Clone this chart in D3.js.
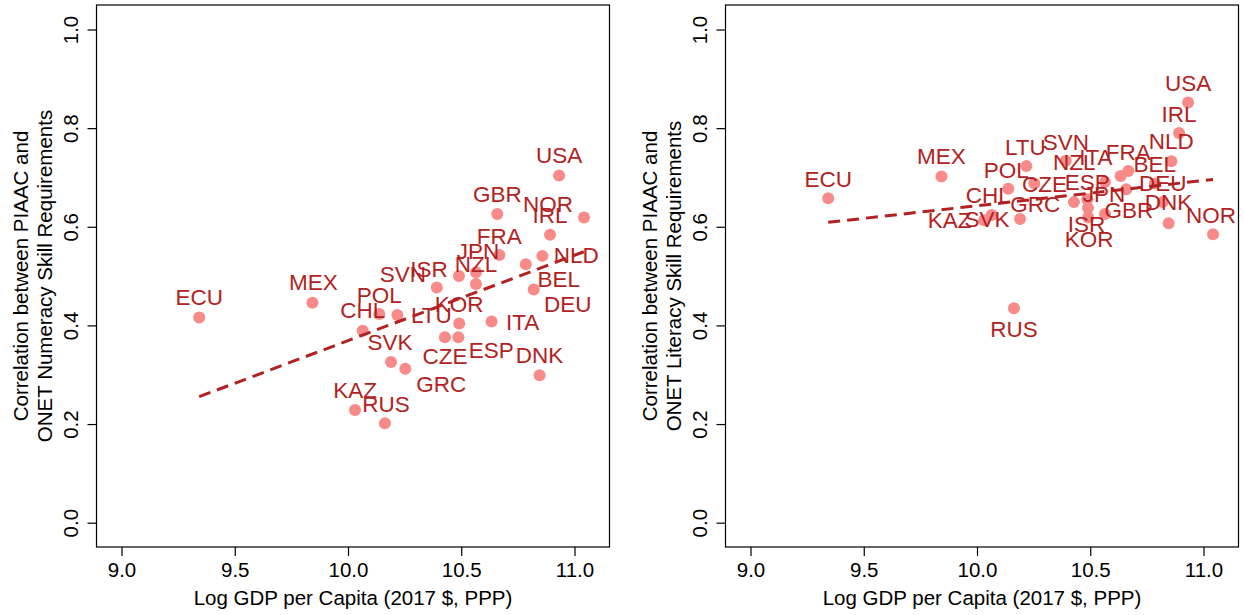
<!DOCTYPE html>
<html><head><meta charset="utf-8">
<script src="https://cdn.jsdelivr.net/npm/d3@7"></script>
<style>
body{margin:0;background:#fff}
svg{display:block}
text{font-family:"Liberation Sans",Arial,Helvetica,sans-serif}
</style>
</head><body>
<svg id="chart" width="1244" height="615"></svg>
<script>
// ---------------- data ----------------
const countries = ["ECU","MEX","KAZ","CHL","POL","RUS","SVK","LTU","GRC","SVN","CZE","ESP","KOR","ISR","NZL","JPN","ITA","GBR","FRA","DEU","BEL","DNK","NLD","IRL","USA","NOR"];
const logGdpPerCapita = [9.343,9.843,10.031,10.065,10.138,10.163,10.190,10.218,10.253,10.392,10.428,10.487,10.491,10.490,10.565,10.565,10.634,10.659,10.668,10.820,10.785,10.846,10.858,10.892,10.932,11.042];
const numeracyCorr = [0.416,0.446,0.2285,0.389,0.423,0.2015,0.326,0.421,0.312,0.477,0.376,0.376,0.404,0.500,0.484,0.508,0.408,0.626,0.543,0.473,0.524,0.299,0.541,0.584,0.704,0.619];
const literacyCorr = [0.658,0.702,0.613,0.624,0.677,0.435,0.616,0.723,0.688,0.734,0.650,0.656,0.619,0.638,0.691,0.626,0.703,0.676,0.713,0.650,0.688,0.607,0.733,0.790,0.852,0.585];
const fitXRange = [9.343, 11.042];
const numeracyFit = [0.2555, 0.5495];
const literacyFit = [0.609, 0.696];
const xTicks = [9.0, 9.5, 10.0, 10.5, 11.0];
const yTicks = [0.0, 0.2, 0.4, 0.6, 0.8, 1.0];
const xTitle = "Log GDP per Capita (2017 $, PPP)";
const numeracyTitle = ["Correlation between PIAAC and", "ONET Numeracy Skill Requirements"];
const literacyTitle = ["Correlation between PIAAC and", "ONET Literacy Skill Requirements"];

// ---------------- layout (label placement offsets, px) ----------------
const numLabelOffsets = {
  ECU:[0,-12.3], MEX:[1,-12.7], KAZ:[0,-11.7], CHL:[0,-12.4], POL:[0,-10.7], RUS:[1,-11.6],
  SVK:[-1,-11.7], LTU:[34,7.7], GRC:[36,22.7], SVN:[-34,-5.6], CZE:[0,26.7], ESP:[33,21],
  KOR:[0,-11.6], ISR:[-30,1.3], NZL:[0,-11.5], JPN:[2,-13], ITA:[31,8.7], GBR:[0,-12.3],
  FRA:[0,-11], DEU:[34,22.4], BEL:[33,22.4], DNK:[0,-12], NLD:[34,7.3], IRL:[0,-11.7],
  USA:[0,-12.4], NOR:[-36,-5.6]
};
const litLabelOffsets = {
  ECU:[0,-11.6], MEX:[0,-12.7], KAZ:[-34.5,8], CHL:[-3.5,-11.7], POL:[-2,-10.4], RUS:[0,28.4],
  SVK:[-33,8], LTU:[-1,-10.8], GRC:[1,28.7], SVN:[0,-10.3], CZE:[-29.4,-10.3], ESP:[0,-9.3],
  KOR:[0.8,29.4], ISR:[-1.5,24], NZL:[-30.6,-11.7], JPN:[-1,-12.3], ITA:[-24.7,-11], GBR:[2.5,29],
  FRA:[0,-11], DEU:[0,-11.5], BEL:[0,-11.5], DNK:[0,-13.3], NLD:[0,-12.3], IRL:[0,-10.6],
  USA:[0,-11.6], NOR:[-2,-11]
};

const TEXT_RED = "#B22222";
const DOT = "#F88A8A";
const AXIS_FONT = 20.5;
const LABEL_FONT = 22.5;

const svg = d3.select("#chart");

function panel(left, yValues, fit, titleLines, offsets) {
  const top = 5, width = 513, height = 542;
  const x = d3.scaleLinear().domain([9 - 25/226.5, 9 + (width-25)/226.5]).range([left, left + width]);
  const y = d3.scaleLinear().domain([-0.0493, 1.0497]).range([top + height, top]);
  const g = svg.append("g");

  // box
  g.append("rect").attr("x", left).attr("y", top).attr("width", width).attr("height", height)
    .attr("fill", "none").attr("stroke", "#000").attr("stroke-width", 1.2);

  // x axis
  const xa = g.append("g").attr("transform", `translate(0,${top + height})`)
    .call(d3.axisBottom(x).tickValues(xTicks).tickSize(9).tickFormat(d3.format(".1f")));
  xa.select(".domain").remove();
  xa.selectAll(".tick line").attr("stroke", "#000").attr("stroke-width", 1.2);
  xa.selectAll(".tick text").attr("y", 29.7).attr("dy", null)
    .attr("font-size", AXIS_FONT).attr("fill", "#000");

  // y axis
  const ya = g.append("g").attr("transform", `translate(${left},0)`)
    .call(d3.axisLeft(y).tickValues(yTicks).tickSize(9).tickFormat(d3.format(".1f")));
  ya.select(".domain").remove();
  ya.selectAll(".tick line").attr("stroke", "#000").attr("stroke-width", 1.2);
  ya.selectAll(".tick text").attr("transform", "rotate(-90)").attr("x", 0).attr("y", -18.5)
    .attr("dy", null).attr("text-anchor", "middle").attr("font-size", AXIS_FONT).attr("fill", "#000");

  // titles
  g.append("text").attr("x", left + width/2).attr("y", 605).attr("text-anchor", "middle")
    .attr("font-size", AXIS_FONT).attr("fill", "#000").text(xTitle);
  titleLines.forEach((t, i) => {
    g.append("text").attr("transform", `translate(${left - 68.5 + i*24},${top + height/2}) rotate(-90)`)
      .attr("text-anchor", "middle").attr("font-size", AXIS_FONT).attr("fill", "#000").text(t);
  });

  const data = countries.map((c, i) => ({c, x: logGdpPerCapita[i], y: yValues[i]}));

  // points
  g.selectAll("circle.pt").data(data).join("circle").attr("class", "pt")
    .attr("cx", d => x(d.x)).attr("cy", d => y(d.y)).attr("r", 6).attr("fill", DOT);

  // fit line
  g.append("line").attr("x1", x(fitXRange[0])).attr("y1", y(fit[0]))
    .attr("x2", x(fitXRange[1])).attr("y2", y(fit[1]))
    .attr("stroke", TEXT_RED).attr("stroke-width", 3).attr("stroke-dasharray", "12,7");

  // labels
  g.selectAll("text.lab").data(data).join("text").attr("class", "lab")
    .attr("x", d => x(d.x) + offsets[d.c][0]).attr("y", d => y(d.y) + offsets[d.c][1])
    .attr("text-anchor", "middle").attr("font-size", LABEL_FONT).attr("fill", TEXT_RED).text(d => d.c);
}

panel(96.5, numeracyCorr, numeracyFit, numeracyTitle, numLabelOffsets);
panel(725.5, literacyCorr, literacyFit, literacyTitle, litLabelOffsets);
</script>
</body></html>
